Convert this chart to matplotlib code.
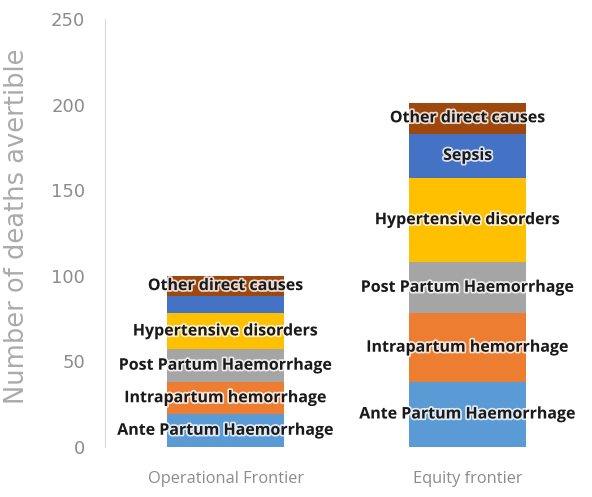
import matplotlib
matplotlib.use('Agg')
import matplotlib.pyplot as plt
import matplotlib.patheffects as pe
import numpy as np

frontiers = ['Operational Frontier', 'Equity frontier']
causes = ['Ante Partum Haemorrhage', 'Intrapartum hemorrhage', 'Post Partum Haemorrhage',
          'Hypertensive disorders', 'Sepsis', 'Other direct causes']
operational = [19, 19, 19, 21, 10, 12]
equity = [38, 40, 30, 49, 26, 18]
# which segment labels are printed on each bar
show_operational = [True, True, True, True, False, True]
show_equity = [True, True, True, True, True, True]
colors = ['#5b9bd5', '#ed7d31', '#a5a5a5', '#ffc000', '#4472c4', '#9e480e']

values = np.array([operational, equity])
shows = [show_operational, show_equity]

fig = plt.figure(figsize=(5.92, 4.97), dpi=100)
ax = fig.add_axes([0.177, 0.1006, 0.8176, 0.8612])

x = np.arange(len(frontiers))
bottom = np.zeros(len(frontiers))
halo = [pe.withStroke(linewidth=2.5, foreground='white', alpha=0.8)]
for i, cause in enumerate(causes):
    ax.bar(x, values[:, i], 0.483, bottom=bottom, color=colors[i])
    for j in range(len(frontiers)):
        if shows[j][i]:
            ax.text(x[j], bottom[j] + values[j, i] / 2, cause, ha='center', va='center',
                    fontsize=11.5, fontweight='bold', color='#1a1a1a',
                    family=['Open Sans', 'DejaVu Sans'], path_effects=halo)
    bottom += values[:, i]

ax.set_xlim(-0.5, 1.5)
ax.set_ylim(0, 250)
ax.set_yticks(np.arange(0, 251, 50))
ax.set_xticks(x)
ax.set_xticklabels(frontiers)
for spine in ['top', 'right', 'bottom']:
    ax.spines[spine].set_visible(False)
ax.spines['left'].set_color('#d9d9d9')
ax.tick_params(length=0, colors='#8c8c8c')
ax.tick_params(axis='x', labelsize=11.8, pad=17)
ax.tick_params(axis='y', labelsize=13, pad=14)
for lab in ax.get_xticklabels():
    lab.set_family(['Open Sans', 'DejaVu Sans'])
ax.set_ylabel('Number of deaths avertible', fontsize=18.5, color='#ababab',
              family=['DejaVu Sans'])
ax.yaxis.set_label_coords(-0.155, 0.515)

fig.savefig('out.png', dpi=100)
